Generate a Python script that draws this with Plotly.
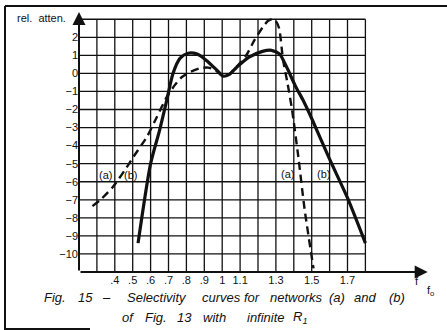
import plotly.graph_objects as go

# Selectivity curves: relative attenuation versus f/fo
x_a = [0.275, 0.32, 0.39, 0.48, 0.5, 0.58, 0.635, 0.69, 0.735, 0.775, 0.82, 0.875,
       0.92, 0.96, 1.005, 1.04, 1.08, 1.135, 1.18, 1.227, 1.255, 1.278, 1.298, 1.318,
       1.34, 1.365, 1.39, 1.425, 1.46, 1.51]
y_a = [-7.35, -7.0, -6.28, -5.0, -4.68, -3.5, -2.41, -1.31, -0.65, -0.2, 0.07, 0.29,
       0.32, 0.2, -0.15, -0.05, 0.36, 1.01, 1.84, 2.57, 2.9, 3.0, 2.92, 2.5,
       0.75, -0.55, -2.0, -4.6, -7.5, -10.8]

x_b = [0.53, 0.6, 0.65, 0.69, 0.725, 0.765, 0.81, 0.86, 0.91, 0.97, 1.005,
       1.04, 1.08, 1.15, 1.225, 1.275, 1.32, 1.36, 1.41, 1.45, 1.5, 1.6, 1.7, 1.8]
y_b = [-9.4, -5.0, -3.15, -1.5, 0.0, 0.85, 1.12, 1.07, 0.73, 0.18, -0.15,
       -0.05, 0.33, 0.9, 1.22, 1.28, 1.08, 0.35, -0.72, -1.45, -2.5, -4.75, -6.9, -9.4]

x_tickvals = [0.4, 0.5, 0.6, 0.7, 0.8, 0.9, 1.0, 1.1, 1.3, 1.5, 1.7]
x_ticktext = [".4", ".5", ".6", ".7", ".8", ".9", "1", "1.1", "1.3", "1.5", "1.7"]
y_tickvals = list(range(2, -11, -1))
y_ticktext = [str(v) if v >= 0 else "\u2212" + str(-v) for v in y_tickvals]

grid_x = [round(0.3 + 0.1 * i, 1) for i in range(16)]   # 0.3 ... 1.8
grid_y = list(range(-10, 4))                              # -10 ... 3

X0, X1, Y0, Y1 = 0.2, 1.8, -11, 3
INK = "#111111"
FONT = "Liberation Sans, Arial, sans-serif"

W, H = 447, 330
ML, MR, MT, MB = 79, 10, 3, 58
PW, PH = W - ML - MR, H - MT - MB


def px(x):
    """Page pixel column -> paper fraction of the plot area."""
    return (x - ML) / PW


def py(y):
    """Page pixel row (from top) -> paper fraction of the plot area."""
    return (H - MB - y) / PH


fig = go.Figure()

fig.add_trace(go.Scatter(x=x_a, y=y_a, mode="lines",
                         line=dict(color=INK, width=2.4, dash="8px,5px",
                                   shape="spline", smoothing=0.6),
                         hoverinfo="skip"))
fig.add_trace(go.Scatter(x=x_b, y=y_b, mode="lines",
                         line=dict(color=INK, width=3.2, shape="spline", smoothing=0.7),
                         hoverinfo="skip"))

shapes = []
for gx in grid_x:
    shapes.append(dict(type="line", xref="x", yref="y", x0=gx, x1=gx, y0=Y0, y1=Y1,
                       line=dict(color=INK, width=1.3), layer="below"))
for gy in grid_y:
    shapes.append(dict(type="line", xref="x", yref="y", x0=X0, x1=X1, y0=gy, y1=gy,
                       line=dict(color=INK, width=1.3), layer="below"))

# page frame
shapes.append(dict(type="line", xref="paper", yref="paper", x0=px(5), x1=px(447),
                   y0=py(6), y1=py(6), line=dict(color=INK, width=2)))
shapes.append(dict(type="line", xref="paper", yref="paper", x0=px(5), x1=px(5),
                   y0=py(6), y1=py(330), line=dict(color=INK, width=2)))
shapes.append(dict(type="line", xref="paper", yref="paper", x0=px(5), x1=px(90),
                   y0=py(329), y1=py(329), line=dict(color=INK, width=2)))

small = dict(size=11, color=INK, family=FONT)

annotations = [
    # axes with arrowheads
    dict(x=2.148, y=Y0, ax=X0, ay=Y0, xref="x", yref="y", axref="x", ayref="y",
         text="", showarrow=True, arrowhead=2, arrowsize=1.3, arrowwidth=2,
         arrowcolor=INK),
    dict(x=X0, y=3.4, ax=X0, ay=Y0, xref="x", yref="y", axref="x", ayref="y",
         text="", showarrow=True, arrowhead=2, arrowsize=1.3, arrowwidth=2,
         arrowcolor=INK),
    # curve labels
    dict(x=0.35, y=-5.6, xref="x", yref="y", text="(a)", showarrow=False, font=small),
    dict(x=0.49, y=-5.6, xref="x", yref="y", text="(b)", showarrow=False, font=small),
    dict(x=1.363, y=-5.55, xref="x", yref="y", text="(a)", showarrow=False, font=small),
    dict(x=1.566, y=-5.55, xref="x", yref="y", text="(b)", showarrow=False, font=small),
    # axis titles
    dict(x=px(15), y=py(18), xref="paper", yref="paper", xanchor="left",
         yanchor="middle", text="rel.  atten.", showarrow=False, font=small),
    dict(x=px(417), y=py(281), xref="paper", yref="paper", xanchor="center",
         yanchor="middle", text="f", showarrow=False, font=small),
    dict(x=px(430), y=py(291), xref="paper", yref="paper", xanchor="center",
         yanchor="middle", text="f<sub>o</sub>", showarrow=False, font=small),
]

caption_1 = [("Fig.", 55), ("15", 85), ("\u2013", 106), ("Selectivity", 157),
             ("curves", 221), ("for", 252), ("networks", 296), ("(a)", 337),
             ("and", 365), ("(b)", 397)]
caption_2 = [("of", 128), ("Fig.", 156), ("13", 184), ("with", 214),
             ("infinite", 266), ("R<sub>1</sub>", 300)]

for words, row in ((caption_1, 297), (caption_2, 318)):
    for word, col in words:
        annotations.append(dict(x=px(col), y=py(row), xref="paper", yref="paper",
                                xanchor="center", yanchor="middle",
                                text="<i>" + word + "</i>", showarrow=False,
                                font=dict(size=13, color=INK, family=FONT)))

fig.update_layout(
    width=W, height=H, autosize=False,
    margin=dict(l=ML, r=MR, t=MT, b=MB, pad=0),
    paper_bgcolor="white", plot_bgcolor="white",
    showlegend=False,
    shapes=shapes, annotations=annotations,
    xaxis=dict(range=[X0, 2.2], showgrid=False, zeroline=False, showline=False,
               tickmode="array", tickvals=x_tickvals, ticktext=x_ticktext,
               ticks="", tickfont=small, fixedrange=True),
    yaxis=dict(range=[Y0, 3.9], showgrid=False, zeroline=False, showline=False,
               tickmode="array", tickvals=y_tickvals, ticktext=y_ticktext,
               ticks="", tickfont=small, fixedrange=True),
)

fig.write_html("out.html", config={"displayModeBar": False})
